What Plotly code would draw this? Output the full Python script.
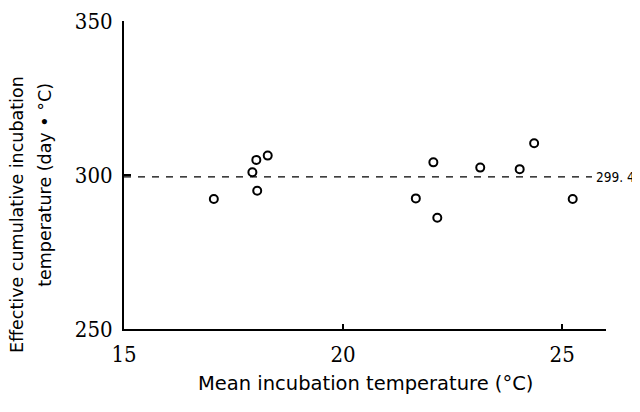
import plotly.graph_objects as go

# Data
mean_temp = [17.05, 17.93, 18.02, 18.04, 18.28, 21.66, 22.06, 22.15, 23.13, 24.03, 24.36, 25.24]
cum_temp = [292.2, 300.9, 304.9, 294.9, 306.3, 292.4, 304.1, 286.1, 302.4, 301.9, 310.3, 292.2]
mean_value = 299.4
mean_line_x = [15, 25.68]
mean_label = "299. 4"
x_ticks = [15, 20, 25]
y_ticks = [250, 300, 350]

narrow = "DejaVu Serif Condensed, DejaVu Sans Condensed, Liberation Sans Narrow, sans-serif"
tick_font = dict(family=narrow, size=22, color="black")
title_font = dict(family="DejaVu Sans, sans-serif", size=17.5, color="black")

fig = go.Figure()
fig.add_trace(go.Scatter(
    x=mean_line_x, y=[mean_value] * len(mean_line_x), mode="lines",
    line=dict(color="black", width=1.3, dash="7px,7px"), hoverinfo="skip", showlegend=False))
fig.add_trace(go.Scatter(
    x=mean_temp, y=cum_temp, mode="markers",
    marker=dict(symbol="circle-open", size=8, color="black", line=dict(width=2, color="black")),
    showlegend=False))

fig.add_annotation(x=mean_line_x[-1], y=mean_value, xref="x", yref="y", text=mean_label,
                   showarrow=False, xanchor="left", yanchor="middle", xshift=2,
                   font=dict(family="DejaVu Sans Condensed, sans-serif", size=13.5, color="black"))

fig.add_annotation(x=0, y=0.37, xref="paper", yref="paper", xshift=-107,
                   text="Effective cumulative incubation", textangle=-90, showarrow=False,
                   xanchor="center", yanchor="middle", font=title_font)
fig.add_annotation(x=0, y=0.468, xref="paper", yref="paper", xshift=-79,
                   text="temperature (day \u2022 \u00b0C)", textangle=-90, showarrow=False,
                   xanchor="center", yanchor="middle", font=title_font)
fig.add_annotation(x=0.5, y=0, xref="paper", yref="paper", yshift=-54,
                   text="Mean incubation temperature (\u00b0C)", showarrow=False,
                   xanchor="center", yanchor="middle",
                   font=dict(family="DejaVu Sans, sans-serif", size=19.5, color="black"))

fig.update_layout(
    width=640, height=412,
    margin=dict(l=116, r=42, t=13, b=91),
    paper_bgcolor="white", plot_bgcolor="white",
    xaxis=dict(range=[15, 26], tickvals=x_ticks, ticks="inside", ticklen=5, tickwidth=2,
               tickcolor="black", showline=True, linewidth=2, linecolor="black",
               showgrid=False, zeroline=False, tickfont=tick_font, automargin=False,
               ticklabelstandoff=5),
    yaxis=dict(range=[250, 350], tickvals=y_ticks, ticks="inside", ticklen=7, tickwidth=2,
               tickcolor="black", showline=True, linewidth=2, linecolor="black",
               showgrid=False, zeroline=False, tickfont=tick_font, ticklabelstandoff=5,
               automargin=False),
)

fig.write_html("out.html")
